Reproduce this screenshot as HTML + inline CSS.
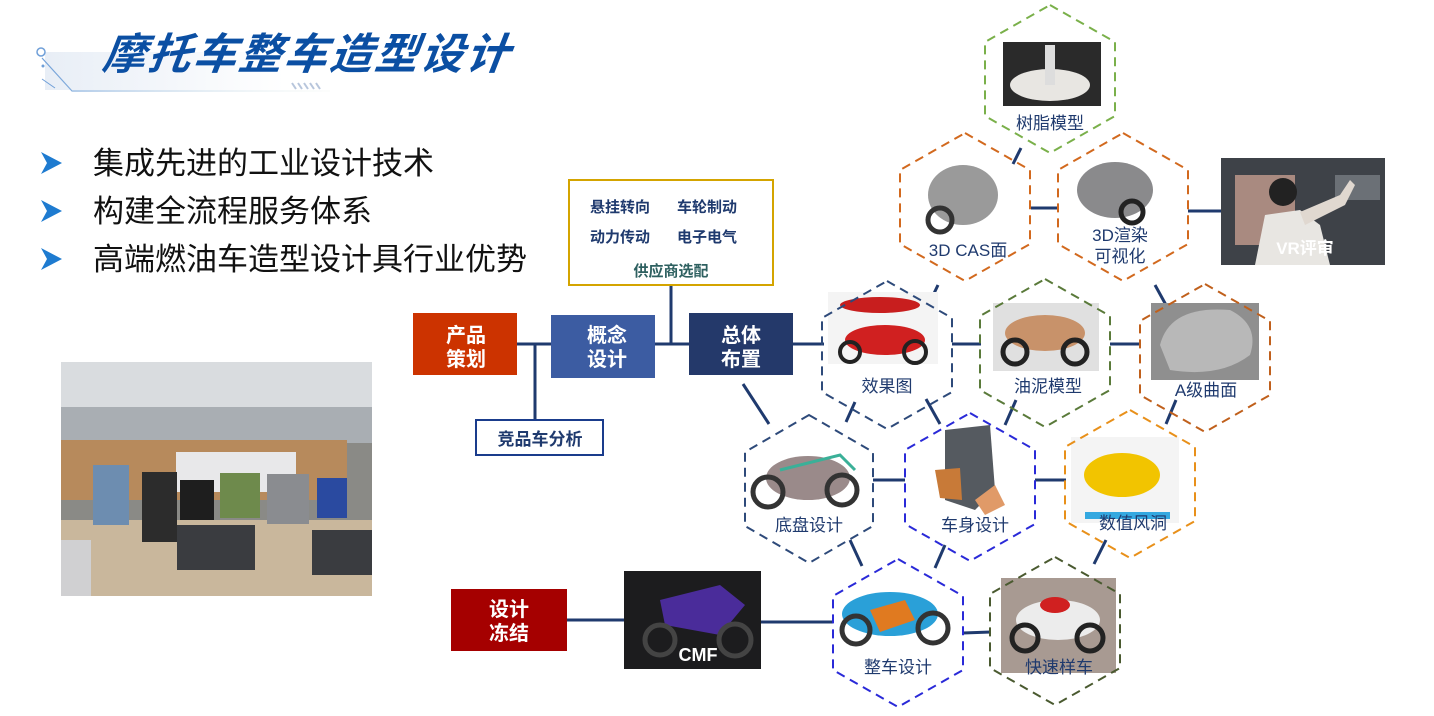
<!DOCTYPE html>
<html><head><meta charset="utf-8">
<style>
html,body{margin:0;padding:0;background:#fff;}
body{width:1434px;height:716px;overflow:hidden;position:relative;font-family:"Liberation Sans","Noto Sans CJK SC",sans-serif;}
svg{position:absolute;left:0;top:0;}
</style></head><body>
<svg width="1434" height="716" viewBox="0 0 1434 716" font-family="Liberation Sans, Noto Sans CJK SC, sans-serif">
<defs>
<linearGradient id="tl" x1="0" x2="1"><stop offset="0" stop-color="#6f9fd8"/><stop offset="1" stop-color="#e8f0e8" stop-opacity="0.2"/></linearGradient>
<linearGradient id="tbg" x1="0" x2="1"><stop offset="0" stop-color="#e8eef6"/><stop offset="1" stop-color="#ffffff"/></linearGradient>
</defs>
<!-- title deco -->
<rect x="45" y="52" width="240" height="38" fill="url(#tbg)"/>
<circle cx="41" cy="52" r="4" fill="none" stroke="#6f9fd8" stroke-width="1.5"/>
<circle cx="43" cy="66" r="1.5" fill="#6f9fd8"/>
<polyline points="42,58 72,91 330,91" fill="none" stroke="url(#tl)" stroke-width="1.2"/>
<polyline points="42,79 55,88" fill="none" stroke="#6f9fd8" stroke-width="1"/>
<g stroke="#b8c6dc" stroke-width="2"><line x1="292" y1="83" x2="296" y2="89"/><line x1="298" y1="83" x2="302" y2="89"/><line x1="304" y1="83" x2="308" y2="89"/><line x1="310" y1="83" x2="314" y2="89"/><line x1="316" y1="83" x2="320" y2="89"/></g>
<text x="102" y="69" font-size="43" font-weight="bold" font-style="italic" fill="#0b4fa3" textLength="406" transform="skewX(-8) translate(9,0)">摩托车整车造型设计</text>

<!-- bullets -->
<g fill="#1e7bd0"><polygon points="41,152 62,163 41,174 47,163"/><polygon points="41,200 62,211 41,222 47,211"/><polygon points="41,248 62,259 41,270 47,259"/></g>
<g font-size="31" fill="#111"><text x="93" y="174">集成先进的工业设计技术</text><text x="93" y="222">构建全流程服务体系</text><text x="93" y="270">高端燃油车造型设计具行业优势</text></g>

<!-- photo -->
<rect x="61" y="362" width="311" height="234" fill="#8a8a86"/>
<rect x="61" y="362" width="311" height="45" fill="#d9dcdf"/>
<rect x="61" y="407" width="311" height="36" fill="#a9aeb3"/>
<rect x="61" y="440" width="286" height="60" fill="#b78a5c"/>
<rect x="176" y="452" width="120" height="40" fill="#e8e8ea"/>
<rect x="61" y="520" width="311" height="76" fill="#c9b79c"/>
<rect x="93" y="465" width="36" height="60" fill="#6d8db0"/><rect x="142" y="472" width="35" height="70" fill="#2c2c2c"/><rect x="180" y="480" width="34" height="40" fill="#1e1e1e"/><rect x="220" y="473" width="40" height="45" fill="#6e8a4c"/><rect x="267" y="474" width="42" height="50" fill="#8a8c90"/><rect x="317" y="478" width="30" height="40" fill="#2a4aa0"/>
<rect x="177" y="525" width="78" height="45" fill="#3a3c40"/><rect x="312" y="530" width="60" height="45" fill="#3a3c40"/>
<rect x="61" y="540" width="30" height="56" fill="#d0d0d2"/>

<!-- connectors -->
<g stroke="#1f3a6e" stroke-width="3" fill="none" stroke-linecap="butt">
<line x1="517" y1="344" x2="551" y2="344"/><line x1="535" y1="344" x2="535" y2="420"/>
<line x1="655" y1="344" x2="689" y2="344"/><line x1="671" y1="344" x2="671" y2="285"/>
<line x1="793" y1="344" x2="824" y2="344"/>
<line x1="743" y1="384" x2="769" y2="424"/>
<line x1="952" y1="344" x2="981" y2="344"/>
<line x1="1110" y1="344" x2="1141" y2="344"/>
<line x1="1031" y1="208" x2="1058" y2="208"/>
<line x1="1188" y1="211" x2="1221" y2="211"/>
<line x1="1021" y1="148" x2="1013" y2="164"/>
<line x1="938" y1="285" x2="928" y2="306"/>
<line x1="1155" y1="285" x2="1166" y2="305"/>
<line x1="855" y1="402" x2="846" y2="422"/>
<line x1="926" y1="399" x2="940" y2="424"/>
<line x1="1016" y1="400" x2="1005" y2="425"/>
<line x1="1176" y1="400" x2="1166" y2="424"/>
<line x1="873" y1="480" x2="905" y2="480"/>
<line x1="1035" y1="480" x2="1066" y2="480"/>
<line x1="850" y1="540" x2="862" y2="566"/>
<line x1="945" y1="545" x2="935" y2="568"/>
<line x1="1106" y1="540" x2="1094" y2="564"/>
<line x1="567" y1="620" x2="624" y2="620"/>
<line x1="761" y1="622" x2="833" y2="622"/>
<line x1="963" y1="633" x2="991" y2="632"/>
</g>

<!-- boxes -->
<rect x="569" y="180" width="204" height="105" fill="#fff" stroke="#d4a400" stroke-width="2"/>
<g font-size="15" font-weight="bold" fill="#1f3a6e"><text x="590" y="212">悬挂转向</text><text x="677" y="212">车轮制动</text><text x="590" y="242">动力传动</text><text x="677" y="242">电子电气</text></g>
<text x="671" y="276" font-size="15" font-weight="bold" fill="#2e6060" text-anchor="middle">供应商选配</text>
<rect x="413" y="313" width="104" height="62" fill="#cc3300"/>
<rect x="551" y="315" width="104" height="63" fill="#3c5ca2"/>
<rect x="689" y="313" width="104" height="62" fill="#24396a"/>
<g font-size="20" font-weight="bold" fill="#fff" text-anchor="middle">
<text x="466" y="342">产品</text><text x="466" y="366">策划</text>
<text x="607" y="342">概念</text><text x="607" y="366">设计</text>
<text x="741" y="342">总体</text><text x="741" y="366">布置</text>
</g>
<rect x="476" y="420" width="127" height="35" fill="#fff" stroke="#1a3c8c" stroke-width="2"/>
<text x="540" y="445" font-size="17" font-weight="bold" fill="#1f3a6e" text-anchor="middle">竞品车分析</text>
<rect x="451" y="589" width="116" height="62" fill="#a50000"/>
<g font-size="20" font-weight="bold" fill="#fff" text-anchor="middle"><text x="509" y="616">设计</text><text x="509" y="640">冻结</text></g>

<!-- CMF -->
<rect x="624" y="571" width="137" height="98" fill="#1c1c1e"/>
<path d="M660,600 L720,585 L745,605 L720,635 L665,625 Z" fill="#4a2c9a"/>
<circle cx="660" cy="640" r="15" fill="none" stroke="#444" stroke-width="5"/><circle cx="735" cy="640" r="16" fill="none" stroke="#444" stroke-width="5"/>
<text x="698" y="661" font-size="18" font-weight="bold" fill="#fff" text-anchor="middle">CMF</text>

<!-- VR -->
<rect x="1221" y="158" width="164" height="107" fill="#3e4248"/>
<rect x="1235" y="175" width="60" height="70" fill="#a98a80"/>
<rect x="1335" y="175" width="45" height="25" fill="#6b7076"/>
<path d="M1255,265 L1265,215 L1300,210 L1320,225 L1330,265 Z" fill="#e8e6e2"/>
<circle cx="1283" cy="192" r="14" fill="#222"/>
<path d="M1300,212 L1340,195 L1350,180 L1355,185 L1345,205 L1305,225 Z" fill="#e0d8d0"/>
<text x="1305" y="254" font-size="17" font-weight="bold" fill="#fff" text-anchor="middle">VR评审</text>

<!-- hex pictures -->
<rect x="1003" y="42" width="98" height="64" fill="#2a2a2a"/><ellipse cx="1050" cy="85" rx="40" ry="16" fill="#e8e6e2"/><rect x="1045" y="45" width="10" height="40" fill="#ddd"/>
<ellipse cx="963" cy="195" rx="35" ry="30" fill="#9a9a9a"/><circle cx="940" cy="220" r="12" fill="none" stroke="#333" stroke-width="5"/>
<ellipse cx="1115" cy="190" rx="38" ry="28" fill="#8a8a8c"/><circle cx="1132" cy="212" r="11" fill="none" stroke="#222" stroke-width="5"/>
<rect x="828" y="292" width="110" height="72" fill="#f4f4f4"/><ellipse cx="880" cy="305" rx="40" ry="8" fill="#c81e1e"/><ellipse cx="885" cy="340" rx="40" ry="15" fill="#d02020"/><circle cx="850" cy="352" r="10" fill="none" stroke="#222" stroke-width="4"/><circle cx="915" cy="352" r="11" fill="none" stroke="#222" stroke-width="4"/>
<rect x="993" y="303" width="106" height="68" fill="#e0e0e0"/><ellipse cx="1045" cy="333" rx="40" ry="18" fill="#c8926a"/><circle cx="1015" cy="352" r="12" fill="none" stroke="#222" stroke-width="5"/><circle cx="1075" cy="352" r="12" fill="none" stroke="#222" stroke-width="5"/>
<rect x="1151" y="303" width="108" height="77" fill="#8f8f8f"/><path d="M1160,345 Q1170,305 1230,310 Q1260,325 1250,355 Q1220,378 1170,370 Z" fill="#b8b8b8"/>
<ellipse cx="808" cy="478" rx="42" ry="22" fill="#9a8a8a"/><circle cx="768" cy="492" r="15" fill="none" stroke="#333" stroke-width="5"/><circle cx="842" cy="490" r="15" fill="none" stroke="#333" stroke-width="5"/><path d="M780,470 L840,455 L855,470" stroke="#3ab098" stroke-width="3" fill="none"/>
<path d="M945,430 L990,425 L995,490 L975,510 L945,500 Z" fill="#555a60"/><path d="M935,470 L960,468 L962,500 L940,498 Z" fill="#c87a38"/><path d="M975,500 L995,485 L1005,505 L985,515 Z" fill="#e09a68"/>
<rect x="1071" y="437" width="108" height="86" fill="#f4f4f4"/><ellipse cx="1122" cy="475" rx="38" ry="22" fill="#f2c400"/><rect x="1085" y="512" width="85" height="7" fill="#34a8e0"/>
<ellipse cx="890" cy="614" rx="48" ry="22" fill="#2aa0d8"/><path d="M870,610 L905,600 L915,620 L880,632 Z" fill="#e07a20"/><circle cx="856" cy="630" r="14" fill="none" stroke="#333" stroke-width="5"/><circle cx="933" cy="628" r="15" fill="none" stroke="#333" stroke-width="5"/>
<rect x="1001" y="578" width="115" height="95" fill="#a89a92"/><ellipse cx="1058" cy="620" rx="42" ry="20" fill="#ececec"/><ellipse cx="1055" cy="605" rx="15" ry="8" fill="#d02020"/><circle cx="1025" cy="638" r="13" fill="none" stroke="#222" stroke-width="5"/><circle cx="1090" cy="638" r="13" fill="none" stroke="#222" stroke-width="5"/>

<!-- hexes -->
<g fill="none" stroke-width="2" stroke-dasharray="9,6">
<polygon points="1050,5 1115,42 1115,116 1050,153 985,116 985,42" stroke="#7ab04a"/>
<polygon points="965,133 1030,170 1030,244 965,281 900,244 900,170" stroke="#d2691e"/>
<polygon points="1123,133 1188,170 1188,244 1123,281 1058,244 1058,170" stroke="#d2691e"/>
<polygon points="887,281 952,318 952,392 887,429 822,392 822,318" stroke="#2e4a7a"/>
<polygon points="1045,279 1110,316 1110,390 1045,427 980,390 980,316" stroke="#5a7a3a"/>
<polygon points="1205,284 1270,321 1270,395 1205,432 1140,395 1140,321" stroke="#c0601c"/>
<polygon points="809,415 873,452 873,526 809,563 745,526 745,452" stroke="#2e4a7a"/>
<polygon points="970,413 1035,450 1035,524 970,561 905,524 905,450" stroke="#2a2ad8"/>
<polygon points="1130,410 1195,447 1195,521 1130,558 1065,521 1065,447" stroke="#e8901a"/>
<polygon points="898,559 963,596 963,670 898,707 833,670 833,596" stroke="#2a2ad8"/>
<polygon points="1055,557 1120,594 1120,668 1055,705 990,668 990,594" stroke="#4a5a30"/>
</g>
<g font-size="17" fill="#1f3a6e" text-anchor="middle">
<text x="1050" y="129">树脂模型</text>
<text x="968" y="256">3D CAS面</text>
<text x="1120" y="241">3D渲染</text><text x="1120" y="262">可视化</text>
<text x="887" y="392">效果图</text>
<text x="1048" y="392">油泥模型</text>
<text x="1206" y="396">A级曲面</text>
<text x="809" y="531">底盘设计</text>
<text x="975" y="531">车身设计</text>
<text x="1133" y="529">数值风洞</text>
<text x="898" y="673">整车设计</text>
<text x="1059" y="673">快速样车</text>
</g>
</svg>
</body></html>
